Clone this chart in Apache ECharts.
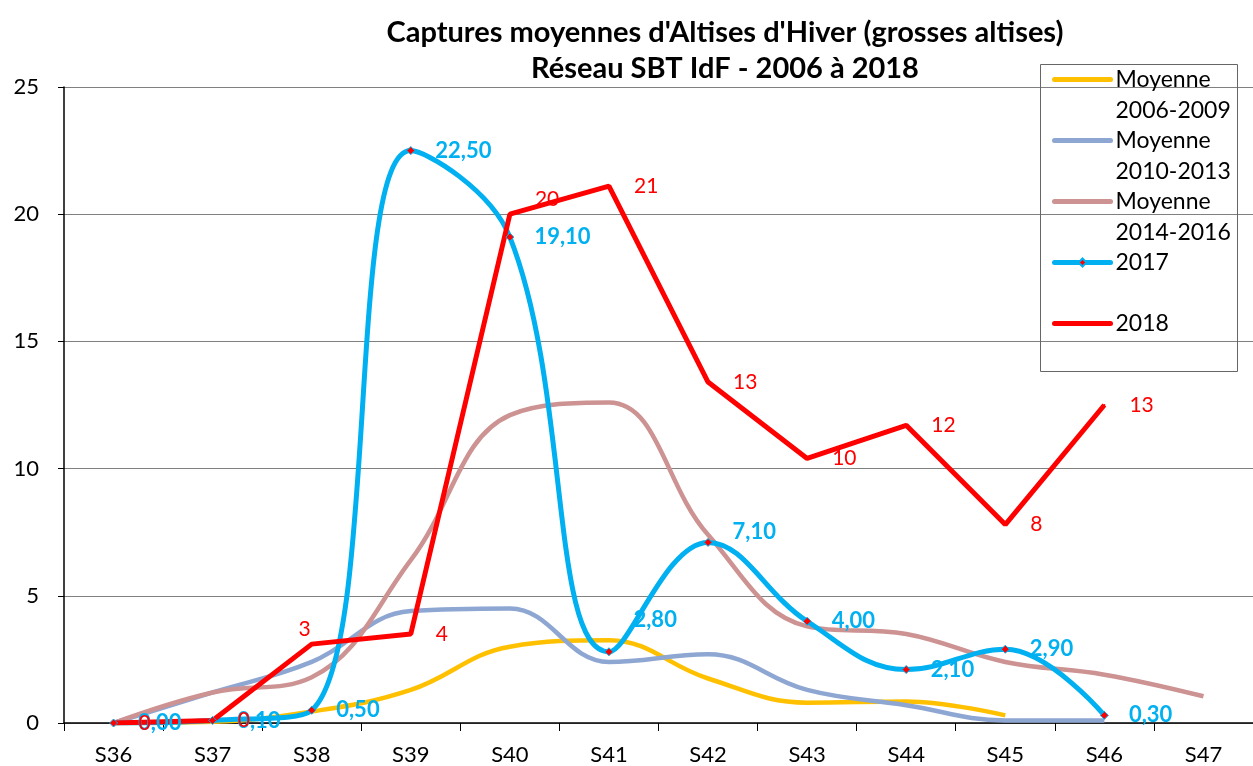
<!DOCTYPE html>
<html>
<head>
<meta charset="UTF-8">
<title>Captures moyennes d'Altises d'Hiver</title>
<script src="https://cdn.jsdelivr.net/npm/echarts@6/dist/echarts.min.js"></script>
<style>
	html, body { margin: 0; padding: 0; background: #fff; }
	#chart { width: 1253px; height: 766px; }
</style>
</head>
<body>
	<div id="chart"></div>
	<script>
	// semaines
	var weeks = ['S36', 'S37', 'S38', 'S39', 'S40', 'S41', 'S42', 'S43', 'S44', 'S45', 'S46', 'S47'];
	// moyennes par période
	var moy0609 = [0, 0.05, 0.45, 1.3, 3.0, 3.25, 1.75, 0.8, 0.85, 0.3, null, null];
	var moy1013 = [0, 1.2, 2.4, 4.4, 4.5, 2.4, 2.7, 1.3, 0.7, 0.1, 0.1, null];
	var moy1416 = [0, 1.2, 1.8, 6.4, 12.1, 12.6, 7.4, 3.8, 3.5, 2.4, 1.9, 1.05];
	var cap2017 = [0, 0.1, 0.5, 22.5, 19.1, 2.8, 7.1, 4.0, 2.1, 2.9, 0.3, null];
	var cap2018 = [0, 0.1, 3.1, 3.5, 20.0, 21.1, 13.4, 10.4, 11.7, 7.8, 12.5, null];

	var FONT = 'Lato';
	var SMOOTH = 0.4;
	var chart = echarts.init(document.getElementById('chart'));

	// quelques étiquettes décalées comme sur l'original
	var data2017 = cap2017.map(function(v, i) {
	    if (i === 5) return { value: v, label: { offset: [0, -32] } };
	    if (i === 6) return { value: v, label: { offset: [0, -10] } };
	    return v;
	});
	var data2018 = cap2018.map(function(v, i) {
	    if (i === 2) return { value: v, label: { position: 'top', distance: 3, offset: [-7, 0] } };
	    if (i === 4) return { value: v, label: { offset: [0, -15] } };
	    return v;
	});

	var option = {
	    animation: false,
	    textStyle: { fontFamily: FONT },
	    title: {
		text: "Captures moyennes d'Altises d'Hiver (grosses altises)\nRéseau SBT IdF - 2006 à 2018",
		left: 720,
		textAlign: 'center',
		top: 10,
		textStyle: { fontFamily: FONT, fontWeight: 'bold', fontSize: 29, lineHeight: 36, color: '#000' }
	    },
	    legend: {
		orient: 'vertical',
		left: 1052,
		top: 33,
		padding: 0,
		itemWidth: 56,
		itemHeight: 10,
		itemGap: -32,
		selectedMode: false,
		itemStyle: { opacity: 0 },
		lineStyle: { width: 5, cap: 'round' },
		data: ['Moyenne 2006-2009', 'Moyenne 2010-2013', 'Moyenne 2014-2016',
		    { name: '2017', itemStyle: { opacity: 1 } }, '2018'],
		formatter: function(name) {
		    // première ligne vide pour aligner le trait sur la 1re ligne du texte
		    if (name.indexOf('Moyenne') === 0) return '\n' + name.replace(' ', '\n');
		    return '\n' + name + '\n ';
		},
		textStyle: { fontFamily: FONT, fontSize: 23, lineHeight: 31, color: '#000' }
	    },
	    graphic: [{
		type: 'rect',
		shape: { x: 1040.5, y: 64.5, width: 197, height: 307 },
		style: { fill: 'transparent', stroke: '#666', lineWidth: 1 },
		z: 1
	    }],
	    grid: { left: 64, top: 87, width: 1203, height: 637 },
	    xAxis: {
		type: 'category',
		data: weeks,
		boundaryGap: true,
		axisLine: { lineStyle: { color: '#000', width: 1.5 } },
		axisTick: { show: true, length: 8, lineStyle: { color: '#000' } },
		axisLabel: { color: '#000', fontSize: 22, margin: 21, fontFamily: FONT }
	    },
	    yAxis: {
		type: 'value',
		min: 0,
		max: 25,
		interval: 5,
		axisLine: { show: true, lineStyle: { color: '#000', width: 1.5 } },
		axisTick: { show: true, length: 6, lineStyle: { color: '#000' } },
		axisLabel: { color: '#000', fontSize: 22, margin: 25, fontFamily: FONT },
		splitLine: { lineStyle: { color: '#808080', width: 1.2 } }
	    },
	    series: [{
		name: 'Moyenne 2006-2009',
		type: 'line',
		data: moy0609,
		smooth: SMOOTH,
		symbol: 'none',
		lineStyle: { color: '#FFC000', width: 4.5 },
		itemStyle: { color: '#FFC000' }
	    }, {
		name: 'Moyenne 2010-2013',
		type: 'line',
		data: moy1013,
		smooth: SMOOTH,
		symbol: 'none',
		lineStyle: { color: '#8EA6D2', width: 4.5 },
		itemStyle: { color: '#8EA6D2' }
	    }, {
		name: 'Moyenne 2014-2016',
		type: 'line',
		data: moy1416,
		smooth: SMOOTH,
		symbol: 'none',
		lineStyle: { color: '#CD9292', width: 4.5 },
		itemStyle: { color: '#CD9292' }
	    }, {
		name: '2017',
		type: 'line',
		data: data2017,
		smooth: SMOOTH,
		symbol: 'diamond',
		symbolSize: 8,
		lineStyle: { color: '#00B0F0', width: 5 },
		itemStyle: { color: '#FF0000', borderColor: '#00B0F0', borderWidth: 1 },
		label: {
		    show: true,
		    position: 'right',
		    distance: 20,
		    color: '#00B0F0',
		    fontWeight: 'bold',
		    fontSize: 22,
		    fontFamily: FONT,
		    formatter: function(p) { return p.value.toFixed(2).replace('.', ','); }
		}
	    }, {
		name: '2018',
		type: 'line',
		data: data2018,
		smooth: false,
		symbol: 'circle',
		symbolSize: 2,
		lineStyle: { color: '#FF0000', width: 5 },
		itemStyle: { color: '#FF0000' },
		label: {
		    show: true,
		    position: 'right',
		    distance: 24,
		    color: '#FF0000',
		    fontSize: 21,
		    fontFamily: FONT,
		    formatter: function(p) { return String(Math.round(p.value)); }
		}
	    }]
	};
	chart.setOption(option);
    </script>
</body>
</html>
